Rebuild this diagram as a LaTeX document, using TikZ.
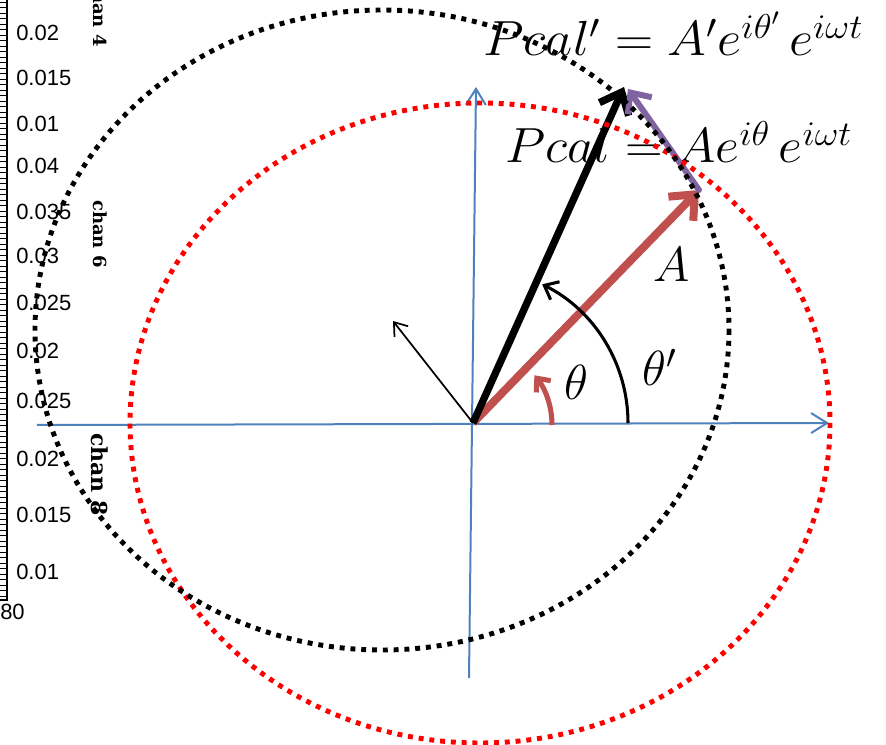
\RequirePackage{fix-cm}
\documentclass[tikz,border=0pt]{standalone}
\usepackage{fontspec}
\newfontfamily\axfont{Liberation Sans}
\newfontfamily\chanfont{DejaVu Serif}
\usetikzlibrary{arrows.meta,calc}
\definecolor{axblue}{HTML}{4F81BD}
\definecolor{vred}{HTML}{C0504D}
\definecolor{vpurple}{HTML}{8064A2}
\definecolor{dotred}{HTML}{FF0000}
\begin{document}
\begin{tikzpicture}[x=0.75pt,y=-0.75pt,
  axis/.style={draw=axblue,line width=1.5pt,-{Straight Barb[length=12pt,width=15pt]}},
  dotcircle/.style={line width=3.7pt,dash pattern=on 3.7pt off 4.4pt},
  ticklab/.style={font=\axfont\fontsize{16.5}{16.5}\selectfont,anchor=west,inner sep=0pt},
  chanlab/.style={font=\chanfont\bfseries\fontsize{13.5}{13.5}\selectfont,anchor=east,rotate=-90,inner sep=0pt},
  eqn/.style={font=\fontsize{37}{44}\selectfont,anchor=base west,inner sep=0pt},
  lab/.style={font=\fontsize{37}{44}\selectfont,anchor=base west,inner sep=0pt}]
\useasboundingbox (0,0) rectangle (886,745);
\clip (0,0) rectangle (886,745);
% left strip (partial plot axis)
\draw[line width=0.8pt] (7,-2) -- (7,600) -- (0,600);
\foreach \yy in {2,7.5,...,598}{\draw[line width=0.6pt] (0,\yy) -- (7,\yy);}
\node[ticklab] (t1) at (16,33) {0.02};
\node[ticklab] (t2) at (16,78) {0.015};
\node[ticklab] (t3) at (16,124) {0.01};
\node[ticklab] (t4) at (16,166) {0.04};
\node[ticklab] (t5) at (16,212) {0.035};
\node[ticklab] (t6) at (16,256) {0.03};
\node[ticklab] (t7) at (16,303) {0.025};
\node[ticklab] (t8) at (16,351) {0.02};
\node[ticklab] (t9) at (16,401) {0.025};
\node[ticklab] (t10) at (16,459) {0.02};
\node[ticklab] (t11) at (16,515) {0.015};
\node[ticklab] (t12) at (16,572) {0.01};
\node[ticklab,anchor=east] (t13) at (25,612) {80};
\node[chanlab] (c4) at (100,47) {chan 4};
\node[chanlab] (c6) at (100,268) {chan 6};
\node[chanlab,font=\chanfont\bfseries\fontsize{16.5}{16.5}\selectfont] (c8) at (100,516) {chan 8};
% coordinates
\coordinate (O) at (473,423);
\coordinate (Xs) at (37,425);
\coordinate (Xe) at (829,423);
\coordinate (Yb) at (469,678);
\coordinate (Yt) at (476,87);
\coordinate (R) at (699,190);
\coordinate (B) at (624,87);
\coordinate (Pt) at (628,89);
\coordinate (T) at (393,321);
% axes
\draw[axis] (Xs) -- (Xe);
\draw[axis] (Yb) -- (Yt);
% formulas
\node[eqn] (f1) at (483,56) {\scalebox{1.07}[1]{$Pcal' = A'e^{i\theta'}\,e^{i\omega t}$}};
\node[eqn] (f2) at (505,163) {\scalebox{1.06}[1]{$Pcal = Ae^{i\theta}\,e^{i\omega t}$}};
% vectors
\draw[vred,line width=6pt,-{Straight Barb[length=15pt,width=26pt]}] (O) -- (R);
\draw[black,line width=5.5pt,-{Straight Barb[length=14pt,width=24pt]}] (O) -- (B);
\draw[vpurple,line width=4.5pt,line cap=round,-{Straight Barb[length=12pt,width=22pt]}] (R) -- (Pt);
\draw[black,line width=1.3pt,-{Straight Barb[length=9pt,width=13pt]}] (O) -- (T);
% angle arcs
\draw[vred,line width=3.8pt,-{Straight Barb[length=8pt,width=14pt]}] ($(O)+(79,2)$) arc[start angle=0,end angle=-39,radius=79];
\draw[black,line width=2.3pt,-{Straight Barb[length=9pt,width=15pt]}] ($(O)+(155,0)$) arc[start angle=0,end angle=-63.5,radius=155];
% labels
\node[lab] (lA) at (653,282) {$A$};
\node[lab] (lt) at (564,400) {$\theta$};
\node[lab] (ltp) at (642,386) {$\theta'$};
% dotted circles
\draw[dotcircle,dotred] (480,423) ellipse[x radius=350,y radius=320];
\draw[dotcircle,black] (382,330) ellipse[x radius=347,y radius=320];
\end{tikzpicture}
\end{document}
